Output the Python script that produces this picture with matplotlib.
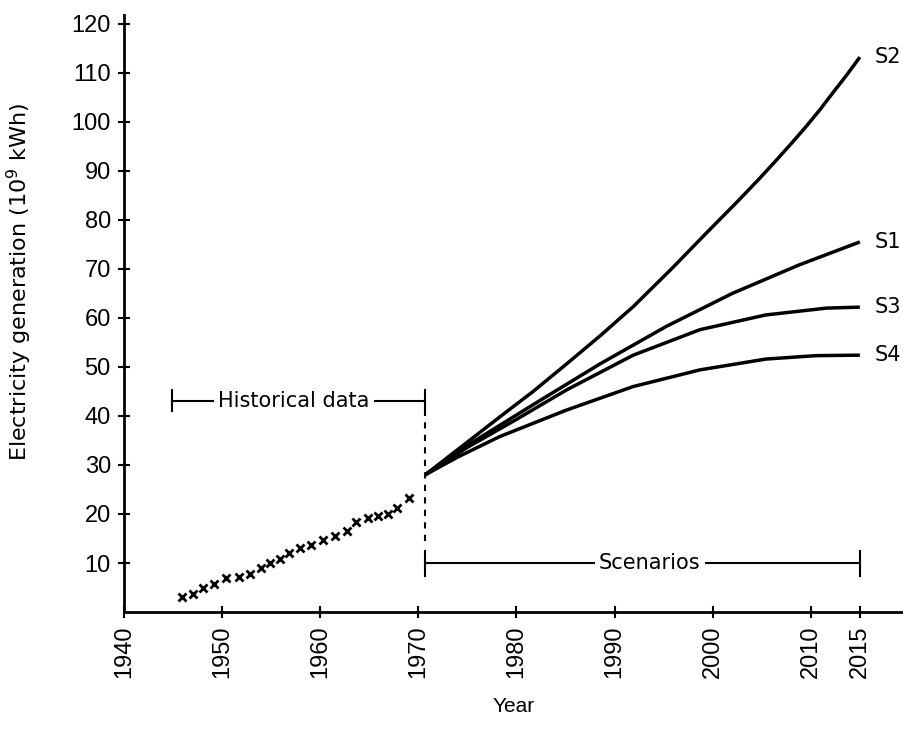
import matplotlib
matplotlib.use("Agg")
import matplotlib.pyplot as plt

plt.rcParams['font.family'] = ['Liberation Sans', 'DejaVu Sans']

# historical data (crosses)
hist_years = [1945.9, 1947.0, 1948.0, 1949.2, 1950.4, 1951.7, 1952.8, 1954.0,
              1954.9, 1955.9, 1956.8, 1957.9, 1959.1, 1960.3, 1961.5, 1962.7,
              1963.6, 1964.9, 1965.9, 1966.9, 1967.8, 1969.0]
hist_vals = [3.1, 3.7, 4.8, 5.7, 6.9, 7.2, 7.8, 8.9, 9.9, 10.8, 12.0, 13.0,
             13.7, 14.6, 15.5, 16.6, 18.3, 19.1, 19.5, 20.0, 21.2, 23.3]

# scenarios
s2_years = [1970.7, 1978.3, 1981.7, 1985.1, 1988.5, 1991.9, 1995.9, 1999.3,
            2002.7, 2004.8, 2006.5, 2008.2, 2009.5, 2010.9, 2012.2, 2013.6, 2015.0]
s2_vals = [28.0, 39.8, 45.0, 50.6, 56.3, 62.3, 70.2, 77.2,
           84.1, 88.5, 92.2, 96.0, 99.0, 102.4, 105.8, 109.4, 113.2]
s1_years = [1970.7, 1975.0, 1981.7, 1988.5, 1995.3, 2002.0, 2008.8, 2015.0]
s1_vals = [28.0, 34.0, 42.3, 50.6, 58.3, 65.0, 70.8, 75.5]
s3_years = [1970.7, 1975.0, 1980.0, 1985.1, 1991.9, 1998.7, 2005.4, 2011.6, 2015.0]
s3_vals = [28.0, 33.6, 39.3, 45.3, 52.4, 57.6, 60.6, 62.0, 62.2]
s4_years = [1970.7, 1974.0, 1978.3, 1985.1, 1991.9, 1998.7, 2005.4, 2010.5, 2015.0]
s4_vals = [28.0, 31.6, 35.8, 41.2, 46.0, 49.4, 51.6, 52.3, 52.4]

labels = ["S2", "S1", "S3", "S4"]
label_y = [113.2, 75.5, 62.2, 52.4]

xticks = [1940, 1950, 1960, 1970, 1980, 1990, 2000, 2010, 2015]
yticks = [10, 20, 30, 40, 50, 60, 70, 80, 90, 100, 110, 120]

fig = plt.figure(figsize=(9.04, 7.38), dpi=100)
ax = fig.add_axes([0.1372, 0.1707, 0.8628, 0.809])

ax.plot(hist_years, hist_vals, 'x', color='black', markersize=6, mew=2)

for yrs, vals in [(s2_years, s2_vals), (s1_years, s1_vals),
                  (s3_years, s3_vals), (s4_years, s4_vals)]:
    ax.plot(yrs, vals, color='black', lw=2.5, solid_capstyle='butt',
            solid_joinstyle='round')

for lab, yv in zip(labels, label_y):
    ax.text(2016.5, yv, lab, fontsize=15, va='center', ha='left', clip_on=False,
            family='DejaVu Sans')

# dashed divider at start of scenarios
ax.plot([1970.7, 1970.7], [14.5, 43.1], color='black', lw=1.5, ls=(0, (3, 3)))

# historical data bracket
ax.plot([1944.9, 1970.7], [43.1, 43.1], color='black', lw=1.5)
ax.plot([1944.9, 1944.9], [41.0, 45.2], color='black', lw=1.5)
ax.plot([1970.7, 1970.7], [41.0, 45.2], color='black', lw=1.5)
ax.text(1957.3, 43.1, "Historical data", fontsize=15, ha='center', va='center',
        family='DejaVu Sans', bbox=dict(facecolor='white', edgecolor='none', pad=3))

# scenarios bracket
ax.plot([1970.7, 2015.0], [10.0, 10.0], color='black', lw=1.5)
ax.plot([1970.7, 1970.7], [7.3, 12.5], color='black', lw=1.5)
ax.plot([2015.0, 2015.0], [7.3, 12.5], color='black', lw=1.5)
ax.text(1993.6, 10.0, "Scenarios", fontsize=15, ha='center', va='center',
        family='DejaVu Sans', bbox=dict(facecolor='white', edgecolor='none', pad=3))

ax.set_xlim(1940, 2019.5)
ax.set_ylim(0, 121.8)
ax.set_xticks(xticks)
ax.set_xticklabels([str(x) for x in xticks], rotation=90, fontsize=17)
ax.set_yticks(yticks)
ax.set_yticklabels([str(y) for y in yticks], fontsize=17)
ax.tick_params(direction='inout', length=9, width=1.5, pad=5)

for side in ['top', 'right']:
    ax.spines[side].set_visible(False)
for side in ['left', 'bottom']:
    ax.spines[side].set_linewidth(2)

ax.set_ylabel("Electricity generation (10$^9$ kWh)", fontsize=16, family='DejaVu Sans')
ax.yaxis.set_label_coords(-0.116, 0.553)
ax.set_xlabel("Year", fontsize=15, labelpad=14)

fig.savefig("out.png", dpi=100)
